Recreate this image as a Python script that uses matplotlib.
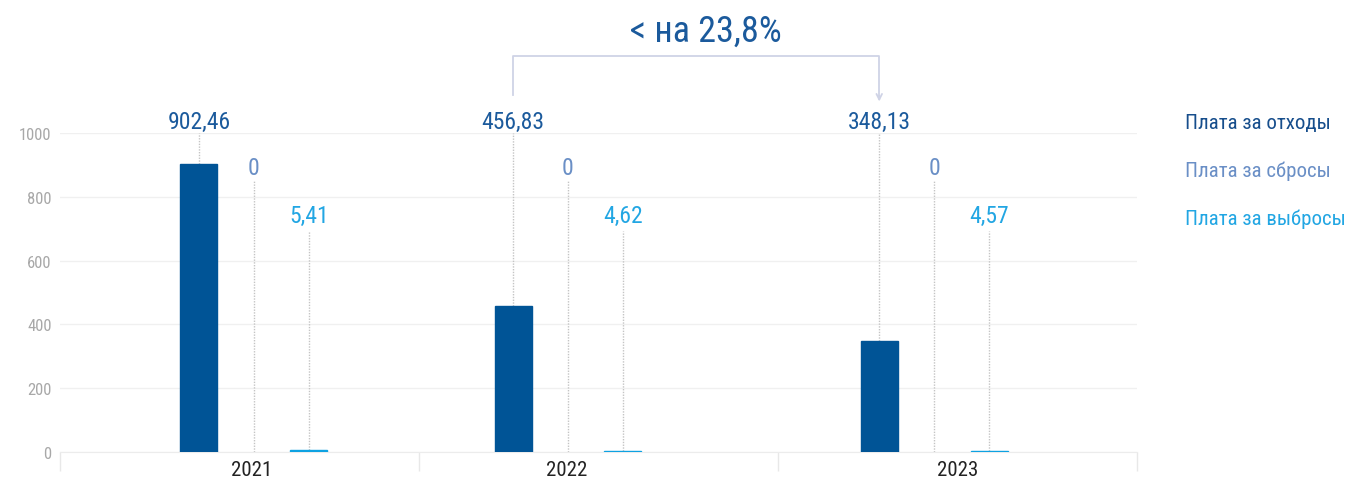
#!/usr/bin/env python3

import matplotlib
matplotlib.use('Agg')
import matplotlib.pyplot as plt
from matplotlib import font_manager

##################

years = ['2021', '2022', '2023']
series_names = ['Плата за отходы', 'Плата за сбросы', 'Плата за выбросы']
waste = [902.46, 456.83, 348.13]
discharge = [0, 0, 0]
emissions = [5.41, 4.62, 4.57]
change_label = '< на 23,8%'

##################

bar_colors = ['#005496', '#6a8fc6', '#0ea2e2']
text_colors = ['#1b5a9c', '#6a8fc6', '#22a6e3']
legend_colors = ['#174e8c', '#6a8fc6', '#22a6e3']

# layout in axis units: each year is one band of width 1
mid_x = [0.54, 1.415, 2.435]
year_label_x = [0.535, 1.41, 2.5]
title_x = 1.80
offset = 0.153
bar_w = 0.103
label_y = [1035, 893, 740]
stem_top = [1000, 850, 693]


def pick_font():
    # look for a narrow face, the original uses a condensed DIN-like font
    narrow = [f for f in font_manager.fontManager.ttflist
              if ('Condensed' in f.fname or 'Narrow' in f.fname)
              and 'Bold' not in f.fname and 'Oblique' not in f.fname
              and 'Italic' not in f.fname]
    for pref in ['Roboto', 'Liberation', 'Open', 'Noto', 'DejaVu']:
        for f in narrow:
            if pref in f.name:
                return f.name, f.stretch, True
    return 'DejaVu Sans', 'normal', False


fam, stretch, found = pick_font()
plt.rcParams['font.family'] = [fam, 'DejaVu Sans']
plt.rcParams['font.stretch'] = stretch
scale = 1.0 if found else 0.85


def main():
    fig = plt.figure(figsize=(13.45, 4.89), dpi=100)
    ax = fig.add_axes([60 / 1345, 36 / 489, 1077 / 1345, 319 / 489])
    ax.set_xlim(0, 3)
    ax.set_ylim(0, 1000)

    for s, vals in enumerate([waste, discharge, emissions]):
        xs = [m + (s - 1) * offset for m in mid_x]
        for x, v in zip(xs, vals):
            if v:
                # tiny bars get an edge so they stay visible as in the original
                ax.bar(x, v, width=bar_w, color=bar_colors[s], zorder=4,
                       linewidth=1.0, edgecolor=bar_colors[s])
            ax.plot([x, x], [v, stem_top[s]], color='#c4c4c4', lw=1,
                    ls=(0, (1, 1)), zorder=2, clip_on=False)
            txt = f'{v:.2f}'.replace('.', ',') if v else '0'
            ax.text(x, label_y[s], txt, ha='center', va='center',
                    fontsize=17 * scale, color=text_colors[s], clip_on=False)

    # grid
    for y in range(0, 1001, 200):
        ax.axhline(y, color='#f0f0f0', lw=1, zorder=0)
    ax.set_yticks(range(0, 1001, 200))
    ax.tick_params(axis='y', length=0, labelsize=12 * scale,
                   labelcolor='#a8a8a8', pad=6)

    ax.set_xticks(year_label_x)
    ax.set_xticklabels(years, fontsize=15 * scale, color='#222222')
    ax.set_xticks([0, 1, 2, 3], minor=True)
    ax.tick_params(axis='x', which='major', length=0, pad=6)
    ax.tick_params(axis='x', which='minor', length=14, color='#e8e8e8',
                   width=1)
    for sp in ['top', 'right', 'left']:
        ax.spines[sp].set_visible(False)
    ax.spines['bottom'].set_color('#ececec')

    # bracket with arrow between 2022 and 2023
    x0 = mid_x[1] - offset
    x1 = mid_x[2] - offset
    ax.plot([x0, x0, x1, x1], [1120, 1240, 1240, 1110], color='#cfd3e6',
            lw=1.3, clip_on=False)
    ax.annotate('', xy=(x1, 1090), xytext=(x1, 1125),
                arrowprops=dict(arrowstyle='->', color='#cfd3e6', lw=1.3),
                annotation_clip=False)
    ax.text(title_x, 1320, change_label, ha='center',
            va='center', fontsize=26 * scale, color='#1b5a9c', clip_on=False)

    # legend as text
    for i, name in enumerate(series_names):
        fig.text(1185 / 1345, 1 - (124 + i * 47.5) / 489, name,
                 ha='left', va='center', fontsize=15 * scale,
                 color=legend_colors[i])

    fig.savefig('out.png', dpi=100)
    plt.close()


if __name__ == '__main__':
    main()
